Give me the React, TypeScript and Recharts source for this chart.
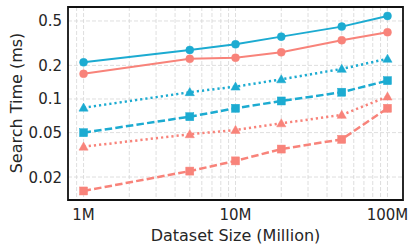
import React from 'react';
import { LineChart, Line, XAxis, YAxis, CartesianGrid, ReferenceArea } from 'recharts';

const X_VALUES = [1, 5, 10, 20, 50, 100];
const CYAN_SOLID = [0.213, 0.275, 0.309, 0.362, 0.445, 0.555];
const SALMON_SOLID = [0.168, 0.229, 0.234, 0.262, 0.336, 0.396];
const CYAN_DOTTED = [0.0836, 0.115, 0.129, 0.15, 0.186, 0.229];
const CYAN_DASHED = [0.0499, 0.0694, 0.0826, 0.096, 0.115, 0.146];
const SALMON_DOTTED = [0.0374, 0.0483, 0.0528, 0.0605, 0.072, 0.105];
const SALMON_DASHED = [0.015, 0.0226, 0.0279, 0.0356, 0.0435, 0.0826];

const X_GRID_TICKS = [0.9, 1, 2, 3, 4, 5, 6, 7, 8, 9, 10, 20, 30, 40, 50, 60, 70, 80, 90, 100];
const X_MAJOR = [1, 10, 100];
const X_LABELS = ['1M', '10M', '100M'];
const Y_TICKS = [0.02, 0.05, 0.1, 0.2, 0.5];
const Y_LABELS = ['0.02', '0.05', '0.1', '0.2', '0.5'];

const X_DOMAIN: [number, number] = [0.79, 126.5];
const Y_DOMAIN: [number, number] = [0.01245, 0.667];

const CYAN = '#1cabd1';
const SALMON = '#f8837a';
const TEXT = '#262626';
const FONT = 'DejaVu Sans, sans-serif';

const data = X_VALUES.map((x, i) => ({
  x,
  cs: CYAN_SOLID[i],
  ss: SALMON_SOLID[i],
  cd: CYAN_DOTTED[i],
  ch: CYAN_DASHED[i],
  sd: SALMON_DOTTED[i],
  sh: SALMON_DASHED[i],
}));

const XTick = (props: any) => {
  const { x, y, payload } = props;
  const idx = X_MAJOR.indexOf(payload.value);
  if (idx < 0) return <g />;
  return (
    <text x={x} y={y + 12} textAnchor="middle" fontSize={15} fill={TEXT} fontFamily={FONT}>
      {X_LABELS[idx]}
    </text>
  );
};

const YTick = (props: any) => {
  const { x, y, payload } = props;
  const idx = Y_TICKS.indexOf(payload.value);
  if (idx < 0) return <g />;
  return (
    <text x={x + 2} y={y + 5.5} textAnchor="end" fontSize={15} fill={TEXT} fontFamily={FONT}>
      {Y_LABELS[idx]}
    </text>
  );
};

const makeSquare = (color: string) => (p: any) => {
  const { cx, cy, index } = p;
  const s = 8;
  return <rect key={`sq-${index}`} x={cx - s / 2} y={cy - s / 2} width={s} height={s} fill={color} stroke={color} strokeWidth={0.5} />;
};

const makeTriangle = (color: string) => (p: any) => {
  const { cx, cy, index } = p;
  const h = 4.6;
  const pts = `${cx},${cy - h} ${cx - h},${cy + h * 0.75} ${cx + h},${cy + h * 0.75}`;
  return <polygon key={`tr-${index}`} points={pts} fill={color} stroke={color} strokeWidth={0.5} />;
};

export default function App() {
  return (
    <div style={{ position: 'absolute', left: 0, top: 0, width: 417, height: 251, background: '#fff' }}>
      <LineChart width={417} height={251} data={data} margin={{ top: 7, right: 14, left: 0, bottom: 0 }}>
        <CartesianGrid stroke="#d6d6d6" strokeDasharray="4 2" strokeWidth={0.8} />
        <XAxis
          dataKey="x"
          type="number"
          scale="log"
          domain={X_DOMAIN}
          allowDataOverflow
          ticks={X_GRID_TICKS}
          interval={0}
          tick={<XTick />}
          tickLine={false}
          axisLine={false}
          height={51}
          label={{
            content: () => (
              <text x={235.5} y={241} textAnchor="middle" fontSize={16} fill={TEXT} fontFamily={FONT}>
                Dataset Size (Million)
              </text>
            ),
          }}
        />
        <YAxis
          type="number"
          scale="log"
          domain={Y_DOMAIN}
          allowDataOverflow
          ticks={Y_TICKS}
          interval={0}
          tick={<YTick />}
          tickLine={false}
          axisLine={false}
          width={68}
          label={{
            content: () => (
              <text
                x={21.5}
                y={103}
                transform="rotate(-90, 21.5, 103)"
                textAnchor="middle"
                fontSize={16}
                fill={TEXT}
                fontFamily={FONT}
              >
                Search Time (ms)
              </text>
            ),
          }}
        />
        <Line dataKey="cs" stroke={CYAN} strokeWidth={2} dot={{ r: 4, fill: CYAN, stroke: CYAN, strokeWidth: 0.5 }} isAnimationActive={false} />
        <Line dataKey="ss" stroke={SALMON} strokeWidth={2} dot={{ r: 4, fill: SALMON, stroke: SALMON, strokeWidth: 0.5 }} isAnimationActive={false} />
        <Line dataKey="cd" stroke={CYAN} strokeWidth={2.5} strokeDasharray="2.2 3" dot={makeTriangle(CYAN)} isAnimationActive={false} />
        <Line dataKey="ch" stroke={CYAN} strokeWidth={2.5} strokeDasharray="7.5 3.2" dot={makeSquare(CYAN)} isAnimationActive={false} />
        <Line dataKey="sd" stroke={SALMON} strokeWidth={2.5} strokeDasharray="2.2 3" dot={makeTriangle(SALMON)} isAnimationActive={false} />
        <Line dataKey="sh" stroke={SALMON} strokeWidth={2.5} strokeDasharray="7.5 3.2" dot={makeSquare(SALMON)} isAnimationActive={false} />
        <ReferenceArea
          x1={X_DOMAIN[0]}
          x2={X_DOMAIN[1]}
          y1={Y_DOMAIN[0]}
          y2={Y_DOMAIN[1]}
          fill="none"
          stroke="#111"
          strokeWidth={1.8}
          ifOverflow="visible"
        />
      </LineChart>
    </div>
  );
}
